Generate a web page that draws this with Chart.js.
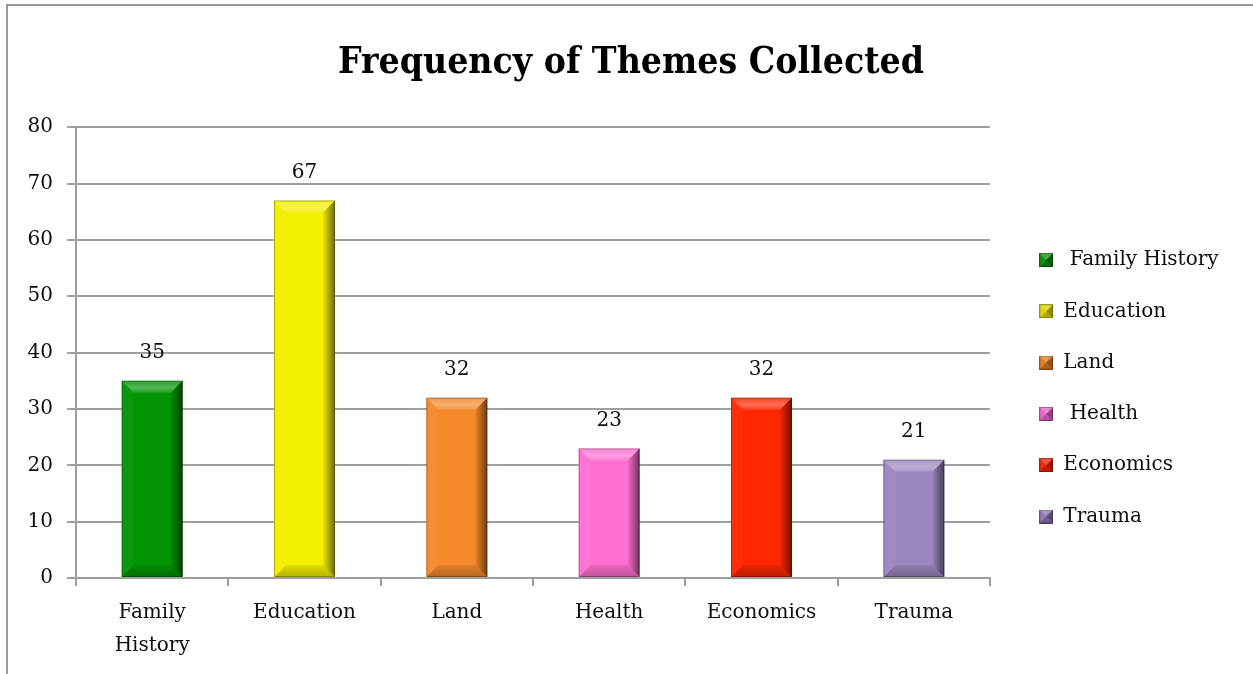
<!DOCTYPE html>
<html>
<head>
<meta charset="utf-8">
<script src="https://cdn.jsdelivr.net/npm/chart.js@4.4.1/dist/chart.umd.min.js"></script>
<style>
  html, body { margin: 0; padding: 0; background: #fff; }
  #wrap { position: relative; width: 1253px; height: 674px; overflow: hidden; }
  #frame { position: absolute; left: 6px; top: 4px; right: -10px; bottom: -10px;
           border-top: 2px solid #999; border-left: 2px solid #999; }
  canvas { position: absolute; left: 0; top: 0; }
</style>
</head>
<body>
<div id="wrap">
  <div id="frame"></div>
  <canvas id="c" width="1253" height="674"></canvas>
</div>
<script>
// ---- data ----
const categories = ['Family History', 'Education', 'Land', 'Health', 'Economics', 'Trauma'];
const frequencies = [35, 67, 32, 23, 32, 21];
const legendLabels = [' Family History', 'Education', 'Land', ' Health', 'Economics', 'Trauma'];
const barColors = ['#039404', '#f3ef00', '#f5892b', '#ff6fd1', '#ff2600', '#9c87c0'];
const markerColors = ['#0b8a0b', '#d8d400', '#de7a22', '#e663c0', '#ee2200', '#8874ad'];
const yTicks = { min: 0, max: 80, step: 10 };

const FONT = "'DejaVu Serif', serif";
const TITLE_FONT = "'DejaVu Serif Condensed', 'DejaVu Serif', serif";
Chart.defaults.font.family = FONT;
Chart.defaults.color = '#0d0d0d';

const GRID = '#9f9f9f';

// small pyramid-shaded legend markers
function makeMarker(color) {
  const n = 14;
  const cv = document.createElement('canvas');
  cv.width = n; cv.height = n;
  const c = cv.getContext('2d');
  c.fillStyle = color; c.fillRect(0, 0, n, n);
  const tri = (pts, fill) => {
    c.beginPath(); c.moveTo(pts[0], pts[1]);
    for (let k = 2; k < pts.length; k += 2) c.lineTo(pts[k], pts[k + 1]);
    c.closePath(); c.fillStyle = fill; c.fill();
  };
  const m = n / 2;
  tri([0, 0, n, 0, m, m], 'rgba(255,255,255,0.25)');
  tri([n, 0, n, n, m, m], 'rgba(0,0,0,0.35)');
  tri([0, n, n, n, m, m], 'rgba(0,0,0,0.2)');
  tri([0, 0, 0, n, m, m], 'rgba(255,255,255,0.05)');
  c.strokeStyle = 'rgba(0,0,0,0.3)'; c.lineWidth = 1; c.strokeRect(0.5, 0.5, n - 1, n - 1);
  return cv;
}
const markerImages = markerColors.map(makeMarker);

const bevelPlugin = {
  id: 'bevel',
  afterDatasetDraw(chart, args) {
    const ctx = chart.ctx;
    const meta = args.meta;
    meta.data.forEach((bar) => {
      const p = bar.getProps(['x', 'y', 'base', 'width'], true);
      const l = p.x - p.width / 2, r = p.x + p.width / 2, t = p.y, b = p.base;
      const s = Math.min(12, (b - t) / 2);
      ctx.save();
      ctx.beginPath();
      ctx.moveTo(l, t); ctx.lineTo(r, t); ctx.lineTo(r - s, t + s); ctx.lineTo(l + s, t + s); ctx.closePath();
      const gt = ctx.createLinearGradient(0, t, 0, t + s);
      gt.addColorStop(0, 'rgba(255,255,255,0.15)');
      gt.addColorStop(0.6, 'rgba(255,255,255,0.32)');
      gt.addColorStop(1, 'rgba(255,255,255,0.12)');
      ctx.fillStyle = gt; ctx.fill();
      ctx.beginPath();
      ctx.moveTo(l, t); ctx.lineTo(l + s, t + s); ctx.lineTo(l + s, b - s); ctx.lineTo(l, b); ctx.closePath();
      ctx.fillStyle = 'rgba(255,255,255,0.04)'; ctx.fill();
      ctx.beginPath();
      ctx.moveTo(r, t); ctx.lineTo(r, b); ctx.lineTo(r - s, b - s); ctx.lineTo(r - s, t + s); ctx.closePath();
      const g = ctx.createLinearGradient(r - s, 0, r, 0);
      g.addColorStop(0, 'rgba(0,0,0,0.04)');
      g.addColorStop(1, 'rgba(0,0,0,0.55)');
      ctx.fillStyle = g; ctx.fill();
      ctx.beginPath();
      ctx.moveTo(l, b); ctx.lineTo(r, b); ctx.lineTo(r - s, b - s); ctx.lineTo(l + s, b - s); ctx.closePath();
      const gb = ctx.createLinearGradient(0, b - s, 0, b);
      gb.addColorStop(0, 'rgba(0,0,0,0.08)');
      gb.addColorStop(1, 'rgba(0,0,0,0.25)');
      ctx.fillStyle = gb; ctx.fill();
      ctx.strokeStyle = 'rgba(0,0,0,0.28)';
      ctx.lineWidth = 1;
      ctx.strokeRect(l + 0.5, t + 0.5, p.width - 1, b - t - 1);
      ctx.restore();
    });
  }
};

const valueLabelPlugin = {
  id: 'valueLabels',
  afterDatasetsDraw(chart) {
    const ctx = chart.ctx;
    const meta = chart.getDatasetMeta(0);
    ctx.save();
    ctx.font = '20px ' + FONT;
    ctx.fillStyle = '#0d0d0d';
    ctx.textAlign = 'center';
    ctx.textBaseline = 'middle';
    meta.data.forEach((bar, i) => {
      const v = chart.data.datasets[0].data[i];
      ctx.fillText(String(v), bar.x, bar.y - 28);
    });
    ctx.restore();
  }
};

// layout tweaks: legend text may run to the canvas edge; title centred on the whole frame
const layoutTweaks = {
  id: 'layoutTweaks',
  afterLayout(chart) {
    const lg = chart.legend;
    if (lg) { lg.right = chart.width; lg.width = lg.right - lg.left; }
    const tb = chart.titleBlock;
    if (tb) { tb.left = 0; tb.right = 1262; tb.width = tb.right - tb.left; }
  }
};

new Chart(document.getElementById('c'), {
  type: 'bar',
  data: {
    labels: categories,
    datasets: [{
      data: frequencies,
      backgroundColor: barColors,
      borderWidth: 0,
      categoryPercentage: 1,
      barPercentage: 0.4
    }]
  },
  options: {
    responsive: false,
    animation: false,
    layout: { padding: { left: 10, right: 45.4, top: 0, bottom: 0 } },
    plugins: {
      tooltip: { enabled: false },
      title: {
        display: true,
        text: 'Frequency of Themes Collected',
        font: { family: TITLE_FONT, size: 37, weight: 'bold', lineHeight: 1.2 },
        color: '#000',
        padding: { top: 41, bottom: 41.8 }
      },
      legend: {
        display: true,
        position: 'right',
        align: 'start',
        title: { display: true, text: ' ', font: { size: 10, lineHeight: 1 }, padding: { top: 208.7, bottom: 0 } },
        labels: {
          boxWidth: 14,
          boxHeight: 14,
          usePointStyle: true,
          pointStyleWidth: 14,
          padding: 31.3,
          font: { family: FONT, size: 20 },
          color: '#0d0d0d',
          generateLabels: () => legendLabels.map((t, i) => ({
            text: t,
            fillStyle: markerColors[i],
            strokeStyle: 'rgba(0,0,0,0.35)',
            lineWidth: 0,
            pointStyle: markerImages[i],
            hidden: false,
            index: i
          }))
        }
      }
    },
    scales: {
      x: {
        grid: { display: true, drawOnChartArea: false, drawTicks: true, tickLength: 8, offset: true, color: GRID, lineWidth: 2 },
        border: { display: true, color: GRID, width: 2 },
        ticks: {
          padding: 10,
          font: { family: FONT, size: 20, lineHeight: 1.65 },
          color: '#0d0d0d',
          maxRotation: 0,
          callback: function (v, i) {
            const lab = categories[i];
            return lab.indexOf(' ') >= 0 ? lab.split(' ') : lab;
          }
        },
        afterFit: (s) => { s.height = 96; }
      },
      y: {
        min: yTicks.min,
        max: yTicks.max,
        ticks: { stepSize: yTicks.step, padding: 14, font: { family: FONT, size: 20 }, color: '#0d0d0d' },
        grid: { color: GRID, lineWidth: 2, tickLength: 9 },
        border: { display: true, color: GRID, width: 2 },
        afterFit: (s) => { s.width = 66; }
      },
      yR: {
        type: 'linear',
        position: 'right',
        display: true,
        grid: { display: false },
        border: { display: false },
        ticks: { display: false },
        afterFit: (s) => { s.width = 18; }
      }
    }
  },
  plugins: [bevelPlugin, valueLabelPlugin, layoutTweaks]
});
</script>
</body>
</html>
